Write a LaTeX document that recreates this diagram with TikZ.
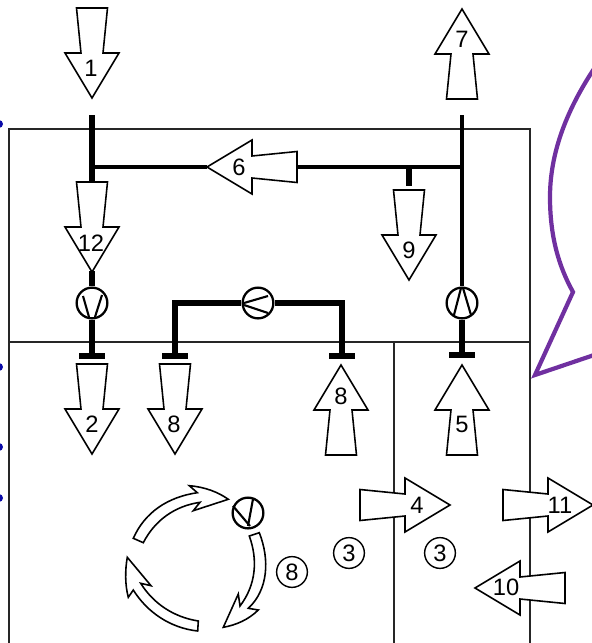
\documentclass[tikz,border=0pt]{standalone}
\usepackage{fontspec}
\setmainfont{Liberation Sans}
\usepackage{xcolor}
\definecolor{bubblepurple}{HTML}{7030A0}
\definecolor{dotblue}{HTML}{0A0AA8}
\tikzset{
  frameline/.style={draw=black!85, line width=0.7pt},
  pipe/.style={draw=black, line width=3.3pt},
  thinpipe/.style={draw=black, line width=2.7pt},
  arrowline/.style={draw=black, fill=white, line width=0.9pt, line join=miter},
  numlabel/.style={font=\fontsize{13.5}{15}\selectfont, inner sep=0pt},
  circlabel/.style={draw=black, circle, fill=white, line width=0.8pt, font=\fontsize{13.5}{15}\selectfont, minimum size=17.5pt, inner sep=0pt},
  pumpnode/.style={draw=black, circle, fill=white, line width=1.3pt, minimum size=17.5pt, inner sep=0pt},
  pumpblade/.style={draw=black, line width=1.2pt},
  teebar/.style={fill=black, rectangle, minimum width=15pt, minimum height=3pt, inner sep=0pt},
  sidedot/.style={fill=dotblue, draw=none},
  pics/flowarrow/.style={code={
    \draw[arrowline] (0,15.5) -- (45,11) -- (45,27) -- (90,0) -- (45,-27) -- (45,-11) -- (0,-15.5) -- cycle;
  }}
}

\begin{document}
\begin{tikzpicture}[x=0.02cm, y=-0.02cm]
  \useasboundingbox (0,0) rectangle (592,643);
  \clip (0,0) rectangle (592,643);
  % margin dots
  \fill[sidedot] (-1,124) circle (4);
  \fill[sidedot] (-1,367) circle (4);
  \fill[sidedot] (-1,447) circle (4);
  \fill[sidedot] (-1,498) circle (4);
  % frame
  \draw[frameline] (9,650) -- (9,129) -- (530,129) -- (530,650);
  \draw[frameline] (9,342) -- (530,342);
  \draw[frameline] (394,342) -- (394,650);
  % bubble
  \draw[bubblepurple, line width=2.4pt, line join=miter] (600,60) .. controls (565,110) and (550,155) .. (550,197) .. controls (550,235) and (558,265) .. (573,292) -- (535,375) -- (600,353);
  % pipes
  \coordinate (topl) at (92,115);
  \coordinate (topr) at (462,115);
  \coordinate (juncl) at (92,167);
  \coordinate (juncr) at (462,167);
  \coordinate (tail12) at (92,182);
  \coordinate (tip12) at (92,271);
  \coordinate (tip6) at (207,167);
  \coordinate (tail6) at (297,167);
  \coordinate (branch9) at (409,167);
  \coordinate (tail9) at (409,186);
  \node[pumpnode] (pumpl) at (92,303) {};
  \node[pumpnode] (pumpm) at (258,303) {};
  \node[pumpnode] (pumpr) at (462,303) {};
  \node[pumpnode] (pumpc) at (248,513) {};
  \node[teebar] (teel) at (92,356) {};
  \node[teebar] (teea) at (175,356) {};
  \node[teebar] (teeb) at (342,356) {};
  \node[teebar] (teer) at (462,355) {};
  \draw[pipe] (topl) -- (tail12);
  \draw[thinpipe] (juncl) -- (tip6);
  \draw[thinpipe] (tail6) -- (juncr);
  \draw[pipe] (branch9) -- (tail9);
  \draw[thinpipe] (topr) -- (pumpr);
  \draw[pipe] (tip12) -- (pumpl);
  \draw[pipe] (pumpl) -- (teel);
  \draw[pipe] (pumpr) -- (teer);
  \draw[pipe] (teea) |- (pumpm);
  \draw[pipe] (pumpm) -| (teeb);
  % pump blades
  \draw[pumpblade] (83,296) -- (89,317);
  \draw[pumpblade] (102,295) -- (95,317);
  \draw[pumpblade] (244,303) -- (268,296);
  \draw[pumpblade] (244,305) -- (268,313);
  \draw[pumpblade] (461,288) -- (454,315);
  \draw[pumpblade] (463,288) -- (471,315);
  \draw[pumpblade] (233,506) -- (250,526);
  \draw[pumpblade] (253,499) -- (248,526);
  % block arrows
  \pic[rotate=-90] at (92,8) {flowarrow};
  \pic[rotate=-90] at (92,182) {flowarrow};
  \pic[rotate=180] at (297,167) {flowarrow};
  \pic[rotate=-90] at (409,190) {flowarrow};
  \pic[rotate=90] at (462,99) {flowarrow};
  \pic[rotate=-90] at (92,364) {flowarrow};
  \pic[rotate=-90] at (175,364) {flowarrow};
  \pic[rotate=90] at (341,455) {flowarrow};
  \pic[rotate=90] at (462,455) {flowarrow};
  \pic at (360,505) {flowarrow};
  \pic at (503,505) {flowarrow};
  \pic[rotate=180] at (565,588) {flowarrow};
  \node[numlabel] (lblone) at (91,68) {1};
  \node[numlabel] (lbltwelve) at (91,243) {12};
  \node[numlabel] (lblsix) at (239,167) {6};
  \node[numlabel] (lblnine) at (409,250) {9};
  \node[numlabel] (lblseven) at (462,39) {7};
  \node[numlabel] (lbltwo) at (92,424) {2};
  \node[numlabel] (lbleighta) at (174,424) {8};
  \node[numlabel] (lbleightb) at (341,396) {8};
  \node[numlabel] (lblfive) at (462,424) {5};
  \node[numlabel] (lblfour) at (417,505) {4};
  \node[numlabel] (lbleleven) at (560,505) {11};
  \node[numlabel] (lblten) at (506,587) {10};
  % circled numbers
  \node[circlabel] (circthreea) at (349,553) {3};
  \node[circlabel] (circthreeb) at (440,553) {3};
  \node[circlabel] (circeight) at (292,572) {8};
  % curved arrows
  \draw[arrowline] (133.3,538.3) .. controls (145,512) and (168,497) .. (197.3,492.7) -- (189.3,485.7) .. controls (205,487) and (218,492) .. (228.3,499.3) -- (193.3,510.7) -- (200,502.3) .. controls (175,506) and (155,520) .. (143.3,542.7) -- cycle;
  \draw[arrowline] (259.3,532.7) .. controls (270,560) and (268,590) .. (248.3,608.3) -- (258.3,610) .. controls (248,620) and (236,625) .. (223.3,627.3) -- (238.3,594) -- (240,606) .. controls (256,585) and (258,560) .. (249.3,536) -- cycle;
  \draw[arrowline] (197.7,631) .. controls (170,628) and (147,612) .. (133.3,590) -- (128.3,597.3) .. controls (125,585) and (125,570) .. (127.3,557.3) -- (151,585.7) -- (140.7,583.3) .. controls (153,603) and (173,617) .. (198.3,621) -- cycle;
\end{tikzpicture}
\end{document}
